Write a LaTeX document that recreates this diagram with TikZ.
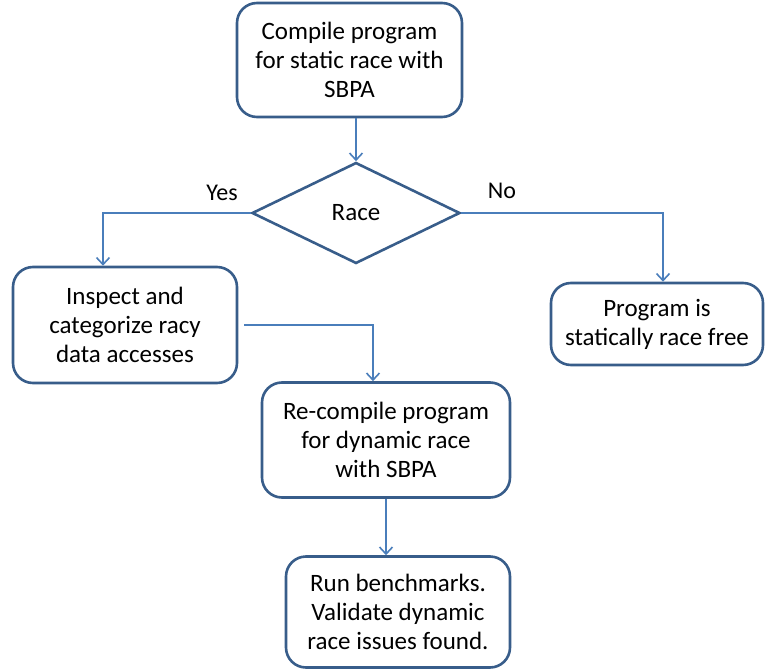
\documentclass[tikz,border=0pt]{standalone}
\usepackage{fontspec}
\setmainfont{Carlito}
\usetikzlibrary{shapes.geometric,arrows.meta,calc}
\definecolor{boxblue}{RGB}{56,93,138}
\definecolor{lineblue}{RGB}{74,126,187}
\tikzset{
  every picture/.style={>={Straight Barb[length=7pt,width=13pt]}},
  stepbox/.style={draw=boxblue,line width=2.6pt,rounded corners=20pt,fill=white,
    align=center,inner sep=0pt,font=\fontsize{25}{29}\selectfont},
  decide/.style={diamond,draw=boxblue,line width=2.6pt,inner sep=0pt,
    font=\fontsize{25}{29}\selectfont},
  flow/.style={draw=lineblue,line width=1.6pt,->},
  answer/.style={font=\fontsize{24}{29}\selectfont}
}
\begin{document}
\begin{tikzpicture}[x=1pt,y=-1pt]
  \useasboundingbox (0,0) rectangle (765,671);
  \node (compile) [stepbox,minimum width=225pt,minimum height=114pt] at (349.5,60)
    {Compile program\\for static race with\\SBPA};
  \node (race) [decide,minimum width=208pt,minimum height=101pt] at (356,213) {Race};
  \node (inspect) [stepbox,minimum width=224pt,minimum height=116pt] at (125,325)
    {Inspect and\\categorize racy\\data accesses};
  \node (free) [stepbox,minimum width=212pt,minimum height=82pt] at (657,324)
    {Program is\\statically race free};
  \node (recompile) [stepbox,minimum width=248pt,minimum height=115pt] at (386,440)
    {Re-compile program\\for dynamic race\\with SBPA};
  \node (bench) [stepbox,minimum width=224pt,minimum height=111pt] at (398,612)
    {Run benchmarks.\\Validate dynamic\\race issues found.};
  \node (yes) [answer] at (222,193) {Yes};
  \node (no) [answer] at (502,191) {No};
  \draw [flow] (race.north |- compile.south) -- (race.north);
  \draw [flow] (race.west) -| ([xshift=-22pt]inspect.north);
  \draw [flow] (race.east) -| ([xshift=6pt]free.north);
  \draw [flow] ([xshift=6pt]inspect.east) -| ([xshift=-13pt]recompile.north);
  \draw [flow] (recompile.south) -- (recompile.south |- bench.north);
\end{tikzpicture}
\end{document}
